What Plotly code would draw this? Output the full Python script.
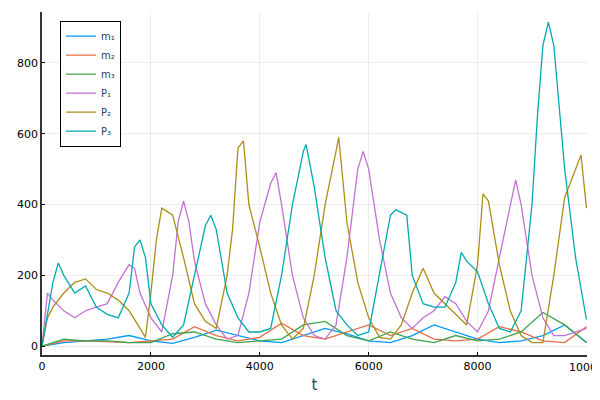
import plotly.graph_objects as go

# P3 (teal)
t_P3 = [0,200,300,400,600,800,1000,1200,1400,1600,1700,1800,1900,2000,2200,2400,2600,2800,3000,3100,3200,3400,3600,3800,4000,4200,4400,4600,4800,4850,5000,5200,5400,5600,5800,6000,6200,6400,6500,6700,6800,7000,7200,7400,7600,7700,7800,8000,8200,8400,8600,8800,9000,9100,9200,9300,9400,9600,9800,10000]
v_P3 = [0,180,235,200,150,170,110,90,80,150,280,300,250,120,60,25,60,200,340,370,330,150,80,40,40,50,200,400,550,570,450,250,100,60,30,40,200,370,385,370,200,120,110,110,180,265,240,210,120,50,40,100,400,650,850,915,850,500,250,75]
# P2 (gold)
t_P2 = [0,100,200,400,600,800,1000,1200,1400,1600,1800,1900,2000,2100,2200,2400,2600,2800,3000,3200,3400,3500,3600,3700,3800,4000,4200,4400,4600,4800,5000,5200,5400,5450,5600,5800,6000,6200,6400,6600,6800,7000,7200,7400,7600,7800,8000,8100,8200,8400,8600,8800,9000,9200,9400,9600,9800,9900,10000]
v_P2 = [0,80,110,150,180,190,160,150,130,100,50,25,150,300,390,370,250,120,70,50,200,330,560,580,400,280,150,60,20,50,200,400,550,590,350,180,80,25,20,60,150,220,150,120,90,60,230,430,410,230,100,30,10,10,200,420,500,540,390]
# P1 (purple)
t_P1 = [0,100,200,400,600,800,1000,1200,1400,1600,1700,1800,2000,2200,2400,2500,2600,2700,2800,3000,3200,3400,3600,3800,4000,4200,4300,4400,4600,4800,5000,5200,5400,5600,5800,5900,6000,6200,6400,6600,6800,7000,7200,7400,7600,7800,8000,8200,8400,8600,8700,8800,9000,9200,9400,9600,9800,10000]
v_P1 = [0,150,130,100,80,100,110,120,180,230,220,150,80,40,200,350,410,350,240,120,60,20,30,150,350,460,490,400,200,80,30,20,60,250,500,550,500,300,150,80,50,80,100,140,120,70,40,100,250,400,470,400,200,80,30,30,40,50]
# mRNAs
t_m = list(range(0, 10001, 400))
v_m1 = [0,10,15,20,30,15,8,25,45,30,15,10,30,50,35,15,10,30,60,40,20,10,15,30,60,10]
v_m2 = [0,15,15,12,10,15,20,55,30,15,25,65,30,20,40,60,30,50,20,15,20,55,40,15,10,55]
v_m3 = [0,20,15,15,10,10,35,40,20,10,15,20,60,70,30,15,40,20,10,30,15,20,40,95,60,10]

x_ticks = [0,2000,4000,6000,8000,10000]
x_ticktext = ["0","2000","4000","6000","8000","10000"]

names = ["m₁","m₂","m₃","P₁","P₂","P₃"]
colors = ["#009AFA","#E36F47","#3EA44E","#C371D2","#AC8E18","#00AAAE"]
series = [(t_m,v_m1),(t_m,v_m2),(t_m,v_m3),(t_P1,v_P1),(t_P2,v_P2),(t_P3,v_P3)]

fig = go.Figure()
for (t,v),n,c in zip(series,names,colors):
    fig.add_trace(go.Scatter(x=t,y=v,mode="lines",name=n,line=dict(color=c,width=1.3)))

tickfont = dict(family="DejaVu Sans", size=11, color="black")
axis_common = dict(showgrid=True, gridcolor="rgba(0,0,0,0.07)", zeroline=False, automargin=False,
                   showline=True, linecolor="#333", linewidth=1.5, ticks="inside",
                   ticklen=3, tickcolor="black", tickfont=tickfont)
fig.update_xaxes(range=[0,10010], tickvals=x_ticks, ticktext=x_ticktext,
                 title=dict(text="t", font=dict(family="DejaVu Sans", size=15), standoff=8), **axis_common)
fig.update_yaxes(range=[-25,944], tickvals=[0,200,400,600,800], **axis_common)
# last tick label (plotly hides it because it overflows the page edge)
fig.add_annotation(x=x_ticks[-1], xref="x", y=0, yref="paper", yshift=-4,
                   text=x_ticktext[-1], showarrow=False, yanchor="top", xanchor="center", font=tickfont)
fig.update_layout(width=592, height=392, plot_bgcolor="white", paper_bgcolor="white",
                  margin=dict(l=34, r=13, t=4, b=45), showlegend=True,
                  legend=dict(x=0.033, y=0.975, xanchor="left", yanchor="top",
                              bordercolor="black", borderwidth=1, bgcolor="white",
                              font=dict(family="DejaVu Sans", size=10), tracegroupgap=0,
                              itemwidth=30))
fig.write_html("out.html")
